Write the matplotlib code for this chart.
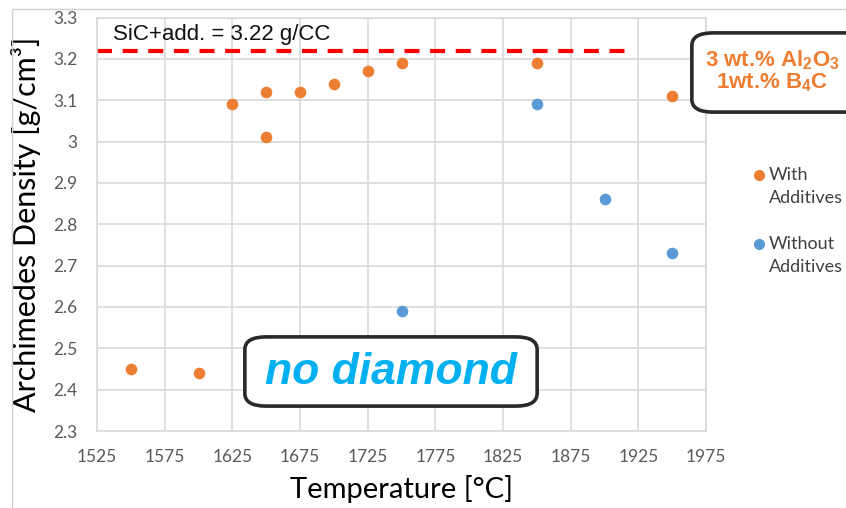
import matplotlib
matplotlib.use("Agg")
import matplotlib.pyplot as plt
from matplotlib.patches import FancyBboxPatch, Rectangle
from matplotlib.lines import Line2D

# data
with_temp = [1550, 1600, 1625, 1650, 1650, 1675, 1700, 1725, 1750, 1850, 1950]
with_dens = [2.45, 2.44, 3.09, 3.12, 3.01, 3.12, 3.14, 3.17, 3.19, 3.19, 3.11]
without_temp = [1750, 1850, 1900, 1950]
without_dens = [2.59, 3.09, 2.86, 2.73]
ref_density = 3.22
ref_span = [1525, 1915]
x_ticks = [1525, 1575, 1625, 1675, 1725, 1775, 1825, 1875, 1925, 1975]
y_ticks = [2.3, 2.4, 2.5, 2.6, 2.7, 2.8, 2.9, 3.0, 3.1, 3.2, 3.3]
y_labels = ["2.3", "2.4", "2.5", "2.6", "2.7", "2.8", "2.9", "3", "3.1", "3.2", "3.3"]

ORANGE = "#ED7D31"
BLUE = "#5B9BD5"
GRID = "#D9D9D9"
TICK = "#595959"
CALIBRI = "Lato"
ARIAL = "Liberation Sans"

plt.rcParams["mathtext.fontset"] = "custom"
plt.rcParams["mathtext.rm"] = "Liberation Sans:bold"
plt.rcParams["mathtext.default"] = "rm"

fig = plt.figure(figsize=(8.46, 5.08), dpi=100)
fig.patches.append(Rectangle((12 / 846, -0.1), 1.2, (508 - 9) / 508 + 0.1,
                             transform=fig.transFigure, fill=False,
                             edgecolor="#D0D0D0", lw=1.0))
ax = fig.add_axes([97 / 846, 1 - 431 / 508, 609 / 846, (431 - 17.5) / 508])

ax.scatter(with_temp, with_dens, s=70, color=ORANGE, zorder=3, linewidths=0)
ax.scatter(without_temp, without_dens, s=70, color=BLUE, zorder=3, linewidths=0)
ax.plot(ref_span, [ref_density, ref_density], color="#FF0000", lw=3,
        dashes=(3.6, 2.55), zorder=2)

ax.set_xlim(1525, 1975)
ax.set_ylim(2.3, 3.3)
ax.set_xticks(x_ticks)
ax.set_yticks(y_ticks, labels=y_labels)
ax.grid(True, color=GRID, lw=1.2)
ax.set_axisbelow(True)
for side in ax.spines.values():
    side.set_color(GRID)
    side.set_linewidth(1.2)
ax.tick_params(length=0, labelcolor=TICK, labelsize=12.5)
ax.tick_params(axis="x", pad=13)
ax.tick_params(axis="y", pad=14)
for lab in ax.get_xticklabels() + ax.get_yticklabels():
    lab.set_fontfamily(CALIBRI)

ax.set_xlabel("Temperature [°C]", fontsize=21, family=CALIBRI, labelpad=7)
ax.set_ylabel("Archimedes Density [g/cm³]", fontsize=22, family=CALIBRI, labelpad=9)

ax.text(1537, 3.258, "SiC+add. = 3.22 g/CC", fontsize=16, family=ARIAL,
        ha="left", va="center", color="#111111")

# no diamond box
fig.patches.append(FancyBboxPatch((255 / 846, 1 - 400 / 508), 272 / 846, 57 / 508,
                                  boxstyle="round,pad=0.012,rounding_size=0.025",
                                  transform=fig.transFigure, facecolor="white",
                                  edgecolor="#262B26", lw=2.6, zorder=5))
fig.text(391 / 846, 1 - 372 / 508, "no diamond", fontsize=32, family=ARIAL,
         weight="bold", style="italic", color="#00B0F0", ha="center",
         va="center", zorder=6)

# additive box
fig.patches.append(FancyBboxPatch((702 / 846, 1 - 106 / 508), 160 / 846, 67 / 508,
                                  boxstyle="round,pad=0.012,rounding_size=0.025",
                                  transform=fig.transFigure, facecolor="white",
                                  edgecolor="#262B26", lw=2.6, zorder=5))
fig.text(772 / 846, 1 - 71 / 508, "3 wt.% Al$_2$O$_3$\n1wt.% B$_4$C", fontsize=16,
         family=ARIAL, weight="bold", color=ORANGE, ha="center", va="center",
         linespacing=0.95, zorder=6)

# legend
for y_mark, col, first, second in [(175, ORANGE, "With", "Additives"),
                                   (244, BLUE, "Without", "Additives")]:
    fig.add_artist(Line2D([759 / 846], [1 - y_mark / 508], marker="o", ms=8,
                          color=col, markeredgewidth=0, transform=fig.transFigure))
    fig.text(769 / 846, 1 - y_mark / 508, first, fontsize=13, family=CALIBRI,
             color="#404040", ha="left", va="center")
    fig.text(769 / 846, 1 - (y_mark + 23) / 508, second, fontsize=13, family=CALIBRI,
             color="#404040", ha="left", va="center")

fig.savefig("out.png", dpi=100)
